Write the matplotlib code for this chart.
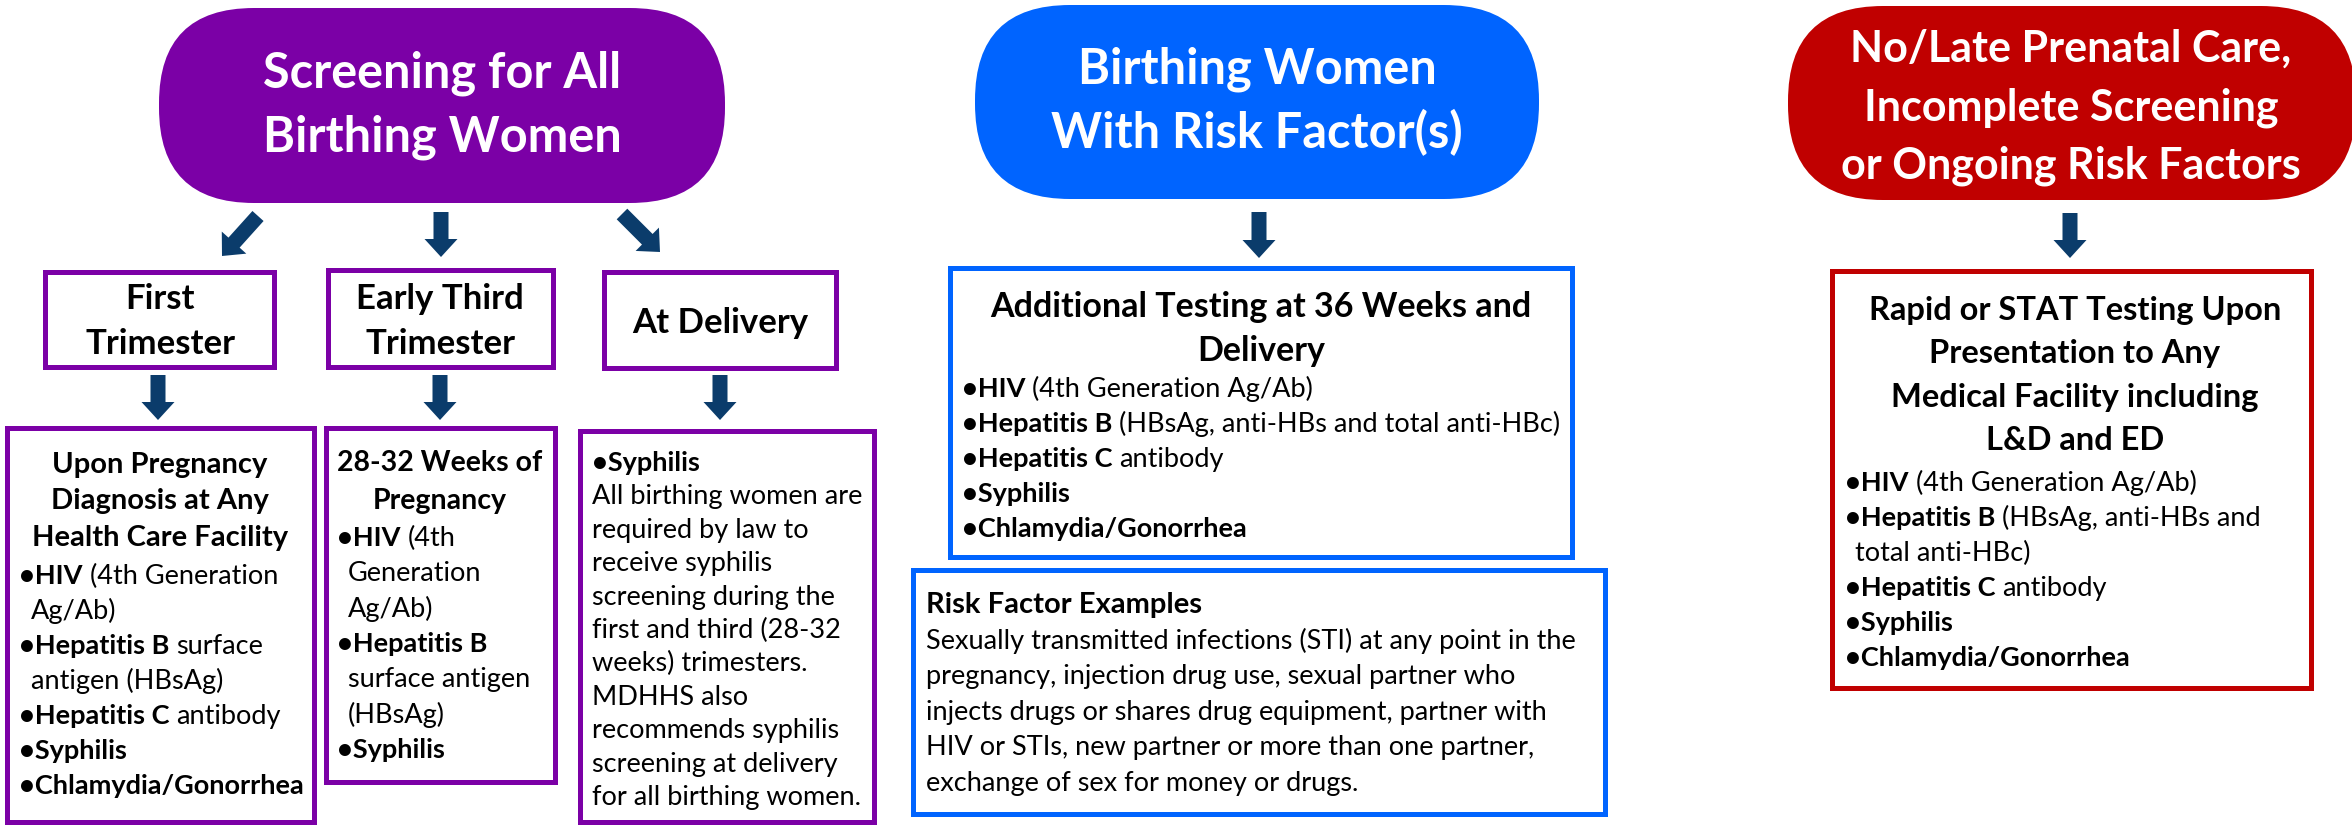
import matplotlib
matplotlib.use('Agg')
import matplotlib.pyplot as plt
from matplotlib.patches import FancyBboxPatch, Rectangle, FancyArrow

# ---- text content (bold parts wrapped in *...*) ----
pill_labels = ["Screening for All\nBirthing Women",
               "Birthing Women\nWith Risk Factor(s)",
               "No/Late Prenatal Care,\nIncomplete Screening\nor Ongoing Risk Factors"]
stage_labels = ["First\nTrimester", "Early Third\nTrimester", "At Delivery"]

first_title = ["Upon Pregnancy", "Diagnosis at Any", "Health Care Facility"]
first_items = ["*•HIV* (4th Generation", "Ag/Ab)", "*•Hepatitis B* surface",
               "antigen (HBsAg)", "*•Hepatitis C* antibody", "*•Syphilis*",
               "*•Chlamydia/Gonorrhea*"]
third_title = ["28-32 Weeks of", "Pregnancy"]
third_items = ["*•HIV* (4th", "Generation", "Ag/Ab)", "*•Hepatitis B*",
               "surface antigen", "(HBsAg)", "*•Syphilis*"]
delivery_items = ["*•Syphilis*", "All birthing women are", "required by law to",
                  "receive syphilis", "screening during the", "first and third (28-32",
                  "weeks) trimesters.", "MDHHS also", "recommends syphilis",
                  "screening at delivery", "for all birthing women."]

risk_title = ["Additional Testing at 36 Weeks and", "Delivery"]
risk_items = ["*•HIV* (4th Generation Ag/Ab)",
              "*•Hepatitis B* (HBsAg, anti-HBs and total anti-HBc)",
              "*•Hepatitis C* antibody", "*•Syphilis*", "*•Chlamydia/Gonorrhea*"]
example_head = "Risk Factor Examples"
example_lines = ["Sexually transmitted infections (STI) at any point in the",
                 "pregnancy, injection drug use, sexual partner who",
                 "injects drugs or shares drug equipment, partner with",
                 "HIV or STIs, new partner or more than one partner,",
                 "exchange of sex for money or drugs."]

stat_title = ["Rapid or STAT Testing Upon", "Presentation to Any",
              "Medical Facility including", "L&D and ED"]
stat_items = ["*•HIV* (4th Generation Ag/Ab)", "*•Hepatitis B* (HBsAg, anti-HBs and",
              "total anti-HBc)", "*•Hepatitis C* antibody", "*•Syphilis*",
              "*•Chlamydia/Gonorrhea*"]

PURPLE = '#7B00A6'
BLUE = '#0064FF'
RED = '#C00000'
NAVY = '#0B3C6B'

plt.rcParams['font.family'] = ['Lato', 'DejaVu Sans']

W, H = 2352, 825
fig = plt.figure(figsize=(W / 100, H / 100), dpi=100)
ax = fig.add_axes([0, 0, 1, 1])
ax.set_xlim(0, W)
ax.set_ylim(H, 0)
ax.axis('off')
renderer = fig.canvas.get_renderer()


def text_width(s, size, bold):
    # pad with bars so leading/trailing spaces count
    wt = 'bold' if bold else 'normal'
    t1 = ax.text(0, 0, '|' + s + '|', fontsize=size, fontweight=wt)
    t2 = ax.text(0, 0, '||', fontsize=size, fontweight=wt)
    w = t1.get_window_extent(renderer).width - t2.get_window_extent(renderer).width
    t1.remove()
    t2.remove()
    return w


def rich_line(x, y, line, size, ha='left', color='black'):
    parts = line.split('*')
    segs = [(p, i % 2 == 1) for i, p in enumerate(parts) if p]
    widths = [text_width(s, size, b) for s, b in segs]
    cx = x - sum(widths) / 2 if ha == 'center' else x
    for (s, b), w in zip(segs, widths):
        lead = len(s) - len(s.lstrip(' '))
        off = text_width(' ' * lead, size, b) if lead else 0
        ax.text(cx + off, y, s.strip(' '), fontsize=size, color=color,
                fontweight='bold' if b else 'normal', ha='left', va='baseline')
        cx += w


def block(lines, x, y0, dy, size, ha='left', indent=0, bold=False, color='black'):
    for i, line in enumerate(lines):
        xx = x
        if ha == 'left' and indent and not line.startswith('*'):
            xx = x + indent
        rich_line(xx, y0 + i * dy, '*' + line + '*' if bold else line, size, ha, color)


def pill(x0, y0, x1, y1, color, r=95):
    ax.add_patch(FancyBboxPatch((x0, y0), x1 - x0, y1 - y0,
                                boxstyle=f"round,pad=0,rounding_size={r}",
                                fc=color, ec='none'))


def box(x0, y0, x1, y1, color):
    ax.add_patch(Rectangle((x0, y0), x1 - x0, y1 - y0, fc='white', ec=color, lw=3.6))


def arrow(x0, y0, x1, y1):
    ax.add_patch(FancyArrow(x0, y0, x1 - x0, y1 - y0, width=15, head_width=33,
                            head_length=18, length_includes_head=True,
                            fc=NAVY, ec='none'))


# ---- shapes ----
pill(159, 8, 725, 203, PURPLE)
pill(975, 5, 1539, 199, BLUE)
pill(1788, 6, 2356, 200, RED)

box(45, 272, 274, 367, PURPLE)
box(328, 270, 553, 367, PURPLE)
box(604, 272, 836, 368, PURPLE)
box(7, 428, 314, 822, PURPLE)
box(326, 428, 555, 782, PURPLE)
box(580, 431, 874, 822, PURPLE)

box(950, 268, 1572, 557, BLUE)
box(913, 570, 1605, 814, BLUE)
box(1832, 271, 2311, 688, RED)

# arrows
arrow(258, 216, 222, 256)
arrow(441, 212, 441, 257)
arrow(622, 214, 660, 252)
for xa in (158, 440, 720):
    arrow(xa, 375, xa, 420)
arrow(1259, 212, 1259, 258)
arrow(2070, 213, 2070, 258)

# ---- text ----
block(pill_labels[0].split('\n'), 442, 87, 64, 35, ha='center', bold=True, color='white')
block(pill_labels[1].split('\n'), 1257, 83, 65, 35, ha='center', bold=True, color='white')
block(pill_labels[2].split('\n'), 2071, 62, 58, 31, ha='center', bold=True, color='white')

block(stage_labels[0].split('\n'), 160, 309, 45, 25, ha='center', bold=True)
block(stage_labels[1].split('\n'), 440, 309, 45, 25, ha='center', bold=True)
block(stage_labels[2].split('\n'), 720, 333, 45, 25, ha='center', bold=True)

block(first_title, 160, 473, 36.5, 21, ha='center', bold=True)
block(first_items, 19, 584, 35, 19.5, indent=12)
block(third_title, 440, 471, 38, 20.5, ha='center', bold=True)
block(third_items, 337, 546, 35.3, 19.5, indent=11)
block(delivery_items, 592, 471, 33.4, 19.5)

block(risk_title, 1261, 317, 44, 24.5, ha='center', bold=True)
block(risk_items, 962, 397, 35, 19.5)
block([example_head], 926, 613, 36, 21, bold=True)
block(example_lines, 926, 649, 35.4, 19.5)

block(stat_title, 2075, 320, 43.5, 23.5, ha='center', bold=True)
block(stat_items, 1845, 491, 35, 19.5, indent=10)

fig.savefig('out.png', dpi=100)
